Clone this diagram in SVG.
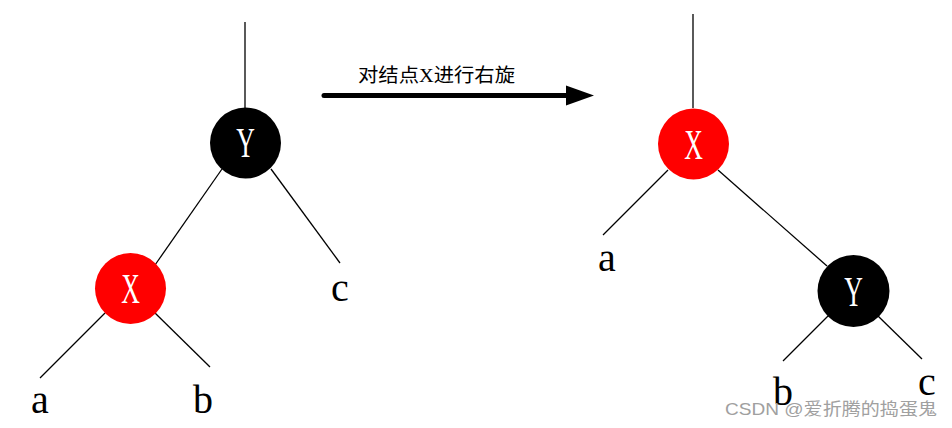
<svg xmlns="http://www.w3.org/2000/svg" width="952" height="428" viewBox="0 0 952 428">
<style>
.edge{stroke:#000;stroke-width:1.3;fill:none}
.lbl{font-family:"Liberation Serif",serif;font-size:40px;fill:#000;text-anchor:middle}
.nl{font-family:"Liberation Serif",serif;font-size:43px;fill:#fff;text-anchor:middle}
.cap{font-family:"Liberation Serif","Noto Sans CJK SC",serif;font-size:19px;fill:#000}
.wm{font-family:"Liberation Sans","Noto Sans CJK SC",sans-serif;font-size:17px;fill:#a0a0a0}
</style>
<defs>
<marker id="ah" markerWidth="28" markerHeight="22" refX="0" refY="11" orient="auto" markerUnits="userSpaceOnUse">
<path d="M0,1 L28,11 L0,21 Z" fill="#000"/>
</marker>
</defs>
<rect width="952" height="428" fill="#fff"/>
<g id="connectors">
<line class="edge" x1="245" y1="22" x2="245" y2="108"/>
<line class="edge" x1="222" y1="169" x2="155" y2="265"/>
<line class="edge" x1="271" y1="169" x2="340" y2="263"/>
<line class="edge" x1="105" y1="313" x2="40" y2="378"/>
<line class="edge" x1="155" y1="313" x2="210" y2="367"/>
<line class="edge" x1="693" y1="14" x2="693" y2="108"/>
<line class="edge" x1="668" y1="170" x2="603" y2="235"/>
<line class="edge" x1="718" y1="170" x2="827" y2="266"/>
<line class="edge" x1="828" y1="316" x2="783" y2="361"/>
<line class="edge" x1="878" y1="316" x2="922" y2="359"/>
<line x1="324" y1="95.5" x2="566" y2="95.5" stroke="#000" stroke-width="5" stroke-linecap="round" marker-end="url(#ah)"/>
</g>
<g id="nodeY1">
<circle cx="245.5" cy="143" r="35.5" fill="#000"/>
<text class="nl" transform="translate(245.5,157) scale(0.6,1)">Y</text>
</g>
<g id="nodeX1">
<circle cx="130.5" cy="288.5" r="35.5" fill="#f00"/>
<text class="nl" transform="translate(130.5,303) scale(0.6,1)">X</text>
</g>
<g id="nodeX2">
<circle cx="693.5" cy="144" r="35.5" fill="#f00"/>
<text class="nl" transform="translate(693.5,159) scale(0.6,1)">X</text>
</g>
<g id="nodeY2">
<circle cx="853.5" cy="291" r="36" fill="#000"/>
<text class="nl" transform="translate(853.5,306) scale(0.6,1)">Y</text>
</g>
<g id="leaves">
<text class="lbl" x="40" y="413">a</text>
<text class="lbl" x="203" y="413">b</text>
<text class="lbl" x="340" y="301">c</text>
<text class="lbl" x="607" y="271">a</text>
<text class="lbl" x="783" y="405">b</text>
<text class="lbl" x="927" y="395">c</text>
</g>
<text class="cap" x="358" y="82" textLength="157" lengthAdjust="spacingAndGlyphs">对结点X进行右旋</text>
<text class="wm" x="725" y="415" textLength="212" lengthAdjust="spacingAndGlyphs">CSDN @爱折腾的捣蛋鬼</text>
</svg>
